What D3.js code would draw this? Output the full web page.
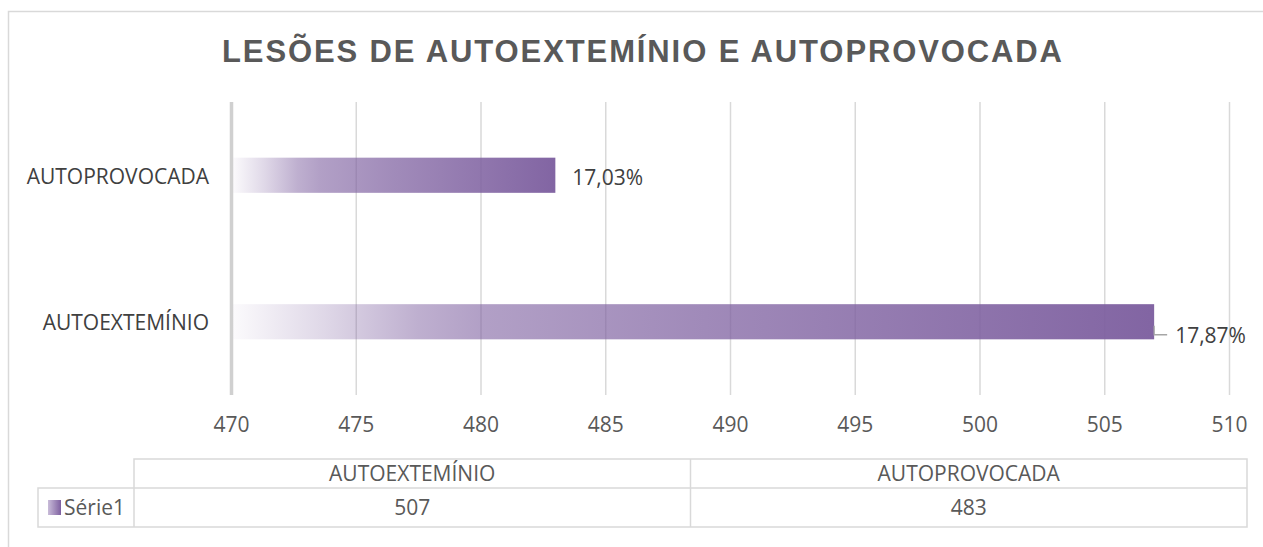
<!DOCTYPE html>
<html>
<head>
<meta charset="utf-8">
<script src="https://cdn.jsdelivr.net/npm/d3@7"></script>
<style>
  body { margin: 0; background: #fff; }
  text { font-family: "Open Sans", sans-serif; }
</style>
</head>
<body>
<div id="chart"></div>
<script>
// Chart data
const title = "LESÕES DE AUTOEXTEMÍNIO E AUTOPROVOCADA";
const categories = ["AUTOEXTEMÍNIO", "AUTOPROVOCADA"];
const values = [507, 483];
const percentLabels = ["17,87%", "17,03%"];
const xTicks = [470, 475, 480, 485, 490, 495, 500, 505, 510];
const seriesName = "Série1";

const W = 1263, H = 547;

const svg = d3.select("#chart")
  .append("svg")
  .attr("width", W)
  .attr("height", H);

// Gradient for the bars (light/transparent on the left, purple on the right)
const defs = svg.append("defs");
const grad = defs.append("linearGradient")
  .attr("id", "barGrad")
  .attr("x1", "0%").attr("x2", "100%")
  .attr("y1", "0%").attr("y2", "0%");
[[0, 0.03], [0.1, 0.25], [0.2, 0.5], [0.27, 0.6], [0.5, 0.73], [0.75, 0.85], [1, 0.97]]
  .forEach(([o, a]) => {
    grad.append("stop")
      .attr("offset", o)
      .attr("stop-color", "#7E60A0")
      .attr("stop-opacity", a);
  });

// Outer chart frame
svg.append("rect")
  .attr("x", 8.5).attr("y", 11.5)
  .attr("width", 1300).attr("height", 600)
  .attr("fill", "none")
  .attr("stroke", "#d9d9d9")
  .attr("stroke-width", 1.5);

// Title
svg.append("text")
  .attr("x", 642)
  .attr("y", 62)
  .attr("text-anchor", "middle")
  .attr("textLength", 840)
  .attr("lengthAdjust", "spacing")
  .style("font-family", "'Liberation Sans', Arial, sans-serif")
  .style("font-weight", "bold")
  .style("font-size", "31px")
  .attr("fill", "#595959")
  .text(title);

// Scales
const plotTop = 102, plotBottom = 395;
const x = d3.scaleLinear()
  .domain([470, 510])
  .range([231, 1229]);

const y = d3.scaleBand()
  .domain(categories.slice().reverse())
  .range([plotTop, plotBottom])
  .paddingInner(0.76)
  .paddingOuter(0.38);

// Gridlines + tick labels via axis
const xAxis = svg.append("g")
  .attr("transform", `translate(0,${plotBottom})`)
  .call(d3.axisBottom(x)
    .tickValues(xTicks)
    .tickSize(-(plotBottom - plotTop))
    .tickPadding(22)
    .tickFormat(d3.format("d")));
xAxis.select(".domain").remove();
xAxis.selectAll(".tick line")
  .attr("stroke", "#d9d9d9")
  .attr("stroke-width", 1.5);
xAxis.selectAll(".tick")
  .filter(d => d === 470)
  .select("line")
  .attr("stroke", "#d0d0d0")
  .attr("stroke-width", 3.5);
xAxis.selectAll(".tick text")
  .attr("fill", "#595959")
  .style("font-size", "21px")
  .style("font-family", "'Open Sans', sans-serif");

// Bars
svg.selectAll(".bar")
  .data(categories)
  .enter()
  .append("rect")
  .attr("class", "bar")
  .attr("x", x(470) + 2)
  .attr("y", d => y(d))
  .attr("width", (d, i) => x(values[i]) - x(470) - 2)
  .attr("height", y.bandwidth())
  .attr("fill", "url(#barGrad)");

// Category labels
svg.selectAll(".cat")
  .data(categories)
  .enter()
  .append("text")
  .attr("class", "cat")
  .attr("x", 209)
  .attr("y", d => y(d) + y.bandwidth() / 2 + 1)
  .attr("dy", "0.35em")
  .attr("text-anchor", "end")
  .attr("fill", "#404040")
  .style("font-size", "21px")
  .text(d => d);

// Data labels (first one sits below with a leader line)
categories.forEach((c, i) => {
  const xEnd = x(values[i]);
  const yMid = y(c) + y.bandwidth() / 2;
  if (i === 0) {
    svg.append("path")
      .attr("d", `M${xEnd},${yMid + 4}V${yMid + 13}H${xEnd + 13}`)
      .attr("fill", "none")
      .attr("stroke", "#a6a6a6")
      .attr("stroke-width", 1.3);
    svg.append("text")
      .attr("x", xEnd + 21)
      .attr("y", yMid + 14)
      .attr("dy", "0.35em")
      .attr("fill", "#404040")
      .style("font-size", "21px")
      .text(percentLabels[i]);
  } else {
    svg.append("text")
      .attr("x", xEnd + 17)
      .attr("y", yMid + 2)
      .attr("dy", "0.35em")
      .attr("fill", "#404040")
      .style("font-size", "21px")
      .text(percentLabels[i]);
  }
});

// Data table
const tLeft = 134, tRight = 1247, legLeft = 38;
const rowTop = 459, rowMid = 488, rowBottom = 527;
const colX = d3.scaleBand()
  .domain(categories)
  .range([tLeft, tRight]);

const table = svg.append("g")
  .attr("stroke", "#d9d9d9")
  .attr("stroke-width", 1.5)
  .attr("fill", "none");
table.append("path")
  .attr("d", `M${tLeft},${rowBottom}V${rowTop}H${tRight}V${rowBottom}H${legLeft}V${rowMid}H${tRight}`);
table.append("line")
  .attr("x1", colX(categories[1])).attr("x2", colX(categories[1]))
  .attr("y1", rowTop).attr("y2", rowBottom);

svg.selectAll(".thead")
  .data(categories)
  .enter()
  .append("text")
  .attr("x", d => colX(d) + colX.bandwidth() / 2)
  .attr("y", (rowTop + rowMid) / 2)
  .attr("dy", "0.35em")
  .attr("text-anchor", "middle")
  .attr("fill", "#595959")
  .style("font-size", "21px")
  .text(d => d);

svg.selectAll(".tval")
  .data(categories)
  .enter()
  .append("text")
  .attr("x", d => colX(d) + colX.bandwidth() / 2)
  .attr("y", (rowMid + rowBottom) / 2)
  .attr("dy", "0.35em")
  .attr("text-anchor", "middle")
  .attr("fill", "#595959")
  .style("font-size", "21px")
  .text((d, i) => values[i]);

// Legend key in the table
const keyGrad = defs.append("linearGradient")
  .attr("id", "keyGrad")
  .attr("x1", "0%").attr("x2", "100%");
keyGrad.append("stop").attr("offset", 0).attr("stop-color", "#c9bcd9");
keyGrad.append("stop").attr("offset", 1).attr("stop-color", "#7E60A0");
svg.append("rect")
  .attr("x", 48).attr("y", 500)
  .attr("width", 13).attr("height", 15)
  .attr("fill", "url(#keyGrad)");
svg.append("text")
  .attr("x", 64)
  .attr("y", (rowMid + rowBottom) / 2)
  .attr("dy", "0.35em")
  .attr("fill", "#595959")
  .style("font-size", "21px")
  .text(seriesName);
</script>
</body>
</html>
